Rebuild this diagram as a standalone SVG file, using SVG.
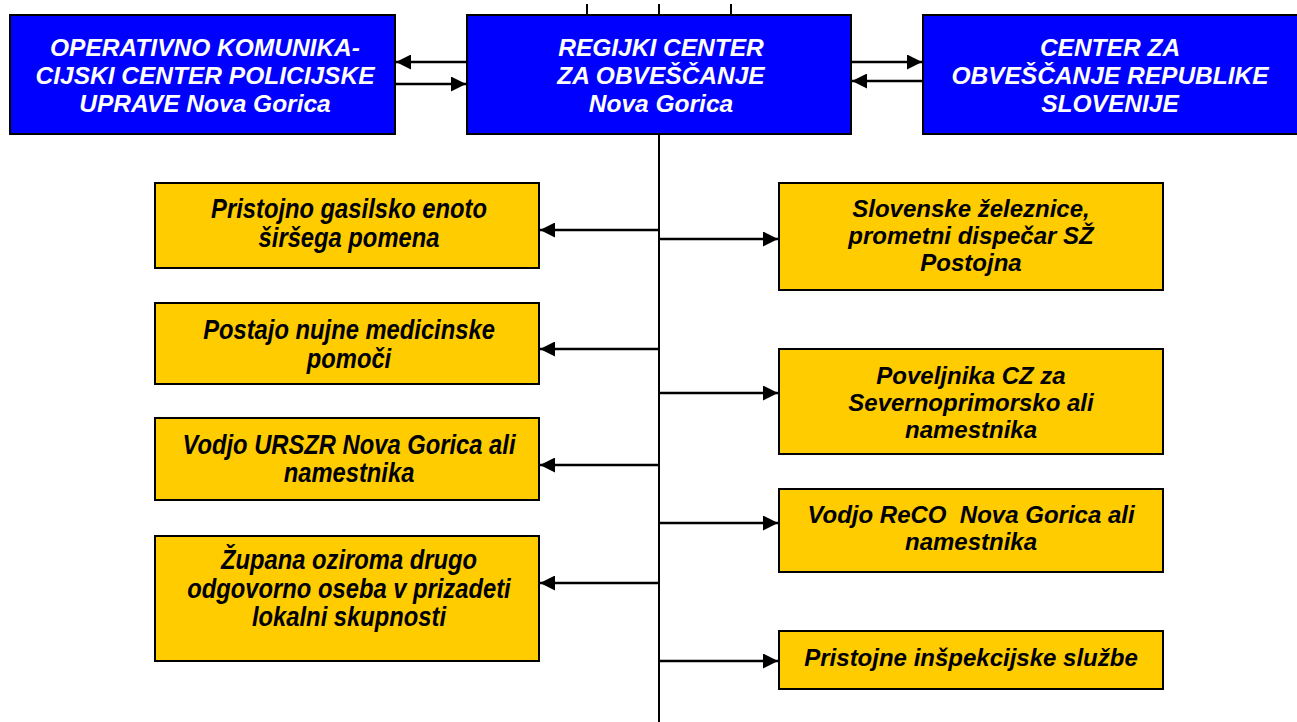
<svg xmlns="http://www.w3.org/2000/svg" width="1297" height="722" viewBox="0 0 1297 722">
<style>
.blue{fill:#0000FF;stroke:#000;stroke-width:2}
.yel{fill:#FFCC00;stroke:#000;stroke-width:2}
.wt{fill:#fff;font-family:"Liberation Sans",Arial,sans-serif;font-weight:bold;font-style:italic;font-size:24.5px;text-anchor:middle}
.bt{fill:#000;font-family:"Liberation Sans",Arial,sans-serif;font-weight:bold;font-style:italic;font-size:24px;text-anchor:middle}
.nt{fill:#000;font-family:"Liberation Sans",Arial,sans-serif;font-weight:bold;font-style:italic;font-size:27px;text-anchor:middle}
.ln{stroke:#000;stroke-width:2.5;fill:none}
.tr{stroke:#000;stroke-width:2;fill:none}
</style>
<defs>
<marker id="ah" viewBox="0 0 10 10" refX="10" refY="5" markerWidth="15" markerHeight="15" markerUnits="userSpaceOnUse" orient="auto">
<path d="M0,0 L10,5 L0,10 Z" fill="#000"/>
</marker>
</defs>
<g id="connectors">
<line class="tr" x1="659" y1="134" x2="659" y2="722"/>
<line class="tr" x1="587" y1="4" x2="587" y2="15"/>
<line class="tr" x1="659" y1="4" x2="659" y2="15"/>
<line class="tr" x1="731" y1="4" x2="731" y2="15"/>
<line class="ln" x1="467" y1="62" x2="396" y2="62" marker-end="url(#ah)"/>
<line class="ln" x1="396" y1="84" x2="466" y2="84" marker-end="url(#ah)"/>
<line class="ln" x1="852" y1="62" x2="922" y2="62" marker-end="url(#ah)"/>
<line class="ln" x1="922" y1="81" x2="852" y2="81" marker-end="url(#ah)"/>
<line class="ln" x1="659" y1="230" x2="540" y2="230" marker-end="url(#ah)"/>
<line class="ln" x1="659" y1="349" x2="540" y2="349" marker-end="url(#ah)"/>
<line class="ln" x1="659" y1="465" x2="540" y2="465" marker-end="url(#ah)"/>
<line class="ln" x1="659" y1="583" x2="540" y2="583" marker-end="url(#ah)"/>
<line class="ln" x1="659" y1="239" x2="778" y2="239" marker-end="url(#ah)"/>
<line class="ln" x1="659" y1="393" x2="778" y2="393" marker-end="url(#ah)"/>
<line class="ln" x1="659" y1="523" x2="778" y2="523" marker-end="url(#ah)"/>
<line class="ln" x1="659" y1="661" x2="778" y2="661" marker-end="url(#ah)"/>
</g>
<g id="oko">
<rect class="blue" x="10" y="15" width="385" height="119"/>
<text class="wt"><tspan x="205" y="56">OPERATIVNO KOMUNIKA-</tspan><tspan x="205" y="84">CIJSKI CENTER POLICIJSKE</tspan><tspan x="205" y="112">UPRAVE Nova Gorica</tspan></text>
</g>
<g id="rco">
<rect class="blue" x="467" y="15" width="384" height="119"/>
<text class="wt"><tspan x="661" y="56">REGIJKI CENTER</tspan><tspan x="661" y="84">ZA OBVEŠČANJE</tspan><tspan x="661" y="112">Nova Gorica</tspan></text>
</g>
<g id="cors">
<rect class="blue" x="923" y="15" width="380" height="119"/>
<text class="wt"><tspan x="1110" y="56">CENTER ZA</tspan><tspan x="1110" y="84">OBVEŠČANJE REPUBLIKE</tspan><tspan x="1110" y="112">SLOVENIJE</tspan></text>
</g>
<g id="gasilci">
<rect class="yel" x="155" y="183" width="384" height="85"/>
<text class="nt" transform="translate(349,0) scale(0.88,1)"><tspan x="0" y="218">Pristojno gasilsko enoto</tspan><tspan x="0" y="247">širšega pomena</tspan></text>
</g>
<g id="nmp">
<rect class="yel" x="155" y="303" width="384" height="81"/>
<text class="nt" transform="translate(349,0) scale(0.88,1)"><tspan x="0" y="339">Postajo nujne medicinske</tspan><tspan x="0" y="368">pomoči</tspan></text>
</g>
<g id="urszr">
<rect class="yel" x="155" y="418" width="384" height="82"/>
<text class="nt" transform="translate(349,0) scale(0.88,1)"><tspan x="0" y="454">Vodjo URSZR Nova Gorica ali</tspan><tspan x="0" y="482">namestnika</tspan></text>
</g>
<g id="zupan">
<rect class="yel" x="155" y="536" width="384" height="125"/>
<text class="nt" transform="translate(349,0) scale(0.88,1)"><tspan x="0" y="569">Župana oziroma drugo</tspan><tspan x="0" y="598">odgovorno oseba v prizadeti</tspan><tspan x="0" y="626">lokalni skupnosti</tspan></text>
</g>
<g id="sz">
<rect class="yel" x="779" y="183" width="384" height="107"/>
<text class="bt"><tspan x="971" y="217">Slovenske železnice,</tspan><tspan x="971" y="244">prometni dispečar SŽ</tspan><tspan x="971" y="271">Postojna</tspan></text>
</g>
<g id="cz">
<rect class="yel" x="779" y="349" width="384" height="105"/>
<text class="bt"><tspan x="971" y="384">Poveljnika CZ za</tspan><tspan x="971" y="411">Severnoprimorsko ali</tspan><tspan x="971" y="438">namestnika</tspan></text>
</g>
<g id="reco">
<rect class="yel" x="779" y="489" width="384" height="83"/>
<text class="bt"><tspan x="971" y="523">Vodjo ReCO&#160; Nova Gorica ali</tspan><tspan x="971" y="550">namestnika</tspan></text>
</g>
<g id="inspekcija">
<rect class="yel" x="779" y="631" width="384" height="58"/>
<text class="bt"><tspan x="971" y="666">Pristojne inšpekcijske službe</tspan></text>
</g>
</svg>
